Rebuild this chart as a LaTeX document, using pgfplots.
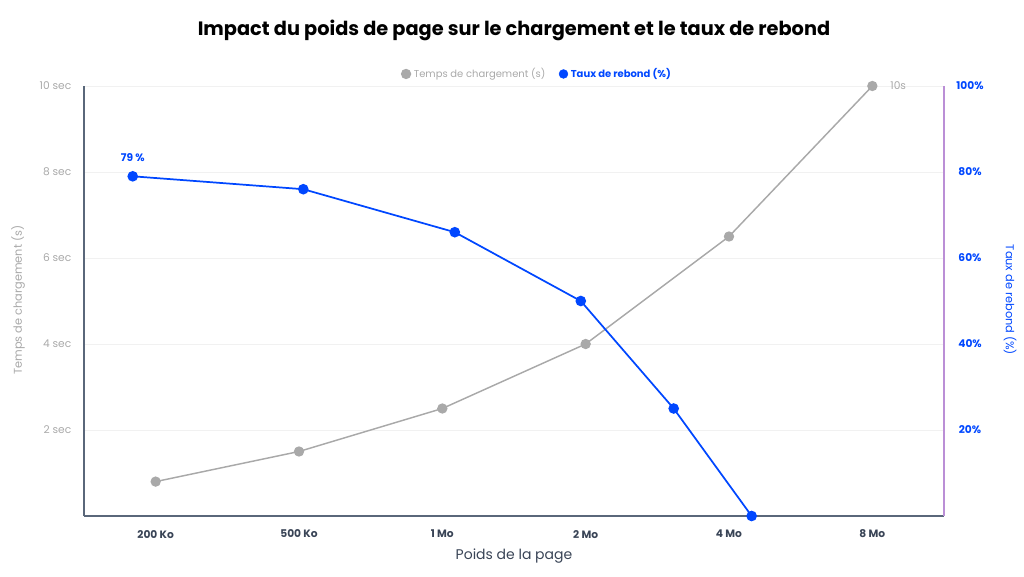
\documentclass[border=0pt]{standalone}
\usepackage{pgfplots}
\pgfplotsset{compat=1.18}
\usepackage{fontspec}
\setmainfont{Poppins}

\definecolor{loadgrey}{HTML}{A9A9A9}
\definecolor{bounceblue}{HTML}{0047FF}
\definecolor{axisslate}{HTML}{5A677A}
\definecolor{rightaxis}{HTML}{BB8FD6}
\definecolor{ticktext}{HTML}{394456}
\definecolor{gridgrey}{HTML}{F1F1F1}

% Load time (s) per page weight category
\pgfplotstableread{
x   t
0   0.8
1   1.5
2   2.5
3   4.0
4   6.5
5   10
}\loadtime

% Bounce rate (%) points
\pgfplotstableread{
x      r
-0.16  79
1.03   76
2.087  66
2.966  50
3.614  25
4.158  0
}\bounce

\pgfplotsset{
  common/.style={
    scale only axis,
    width=645pt, height=322.5pt,
    at={(63pt,45pt)}, anchor=south west,
    xmin=-0.5, xmax=5.5,
    clip=false,
    /pgf/number format/assume math mode=true,
    major tick length=0pt,
  },
}

\begin{document}
\begin{tikzpicture}[x=0.75pt,y=0.75pt]
\path[use as bounding box] (0,0) rectangle (1024,576);

% left axis: load time
\begin{axis}[common,
  ymin=0, ymax=10,
  axis x line*=bottom, axis y line*=left,
  axis line style={axisslate, line width=1.3pt},
  xtick={0,1,2,3,4,5},
  xticklabels={200 Ko,500 Ko,1 Mo,2 Mo,4 Mo,8 Mo},
  xticklabel style={font=\bfseries\fontsize{8}{9}\selectfont, text=ticktext, yshift=-7pt},
  ytick={2,4,6,8,10},
  yticklabels={2 sec,4 sec,6 sec,8 sec,10 sec},
  yticklabel style={font=\fontsize{8}{9}\selectfont, text=loadgrey, xshift=-6pt},
  ymajorgrids, grid style={gridgrey, line width=0.6pt},
  legend columns=2,
  legend style={draw=none, fill=none, at={(0.527,1.028)}, anchor=center,
    font=\fontsize{7.5}{9}\selectfont,
    /tikz/every even column/.append style={column sep=8pt}},
  legend cell align=left,
  legend image code/.code={\fill (0.2em,0) circle (3.3pt);},
]
\addplot[loadgrey, line width=1.1pt, mark=*, mark size=3.3pt,
  mark options={fill=loadgrey, draw=loadgrey}] table[x=x,y=t]{\loadtime};
\addlegendentry{\textcolor{loadgrey}{Temps de chargement (s)}}
\addlegendimage{bounceblue, fill=bounceblue}
\addlegendentry{\textcolor{bounceblue}{\bfseries Taux de rebond (\%)}}
\node[anchor=west, text=loadgrey, font=\fontsize{8}{9}\selectfont]
  at (axis cs:5,10) [xshift=10pt] {10s};
\end{axis}

% right axis: bounce rate
\begin{axis}[common,
  ymin=0, ymax=100,
  axis x line=none, axis y line*=right,
  axis line style={rightaxis, line width=1.1pt},
  xtick=\empty,
  ytick={20,40,60,80,100},
  yticklabels={20\%,40\%,60\%,80\%,100\%},
  yticklabel style={font=\bfseries\fontsize{8}{9}\selectfont, text=bounceblue,
    anchor=center, xshift=19.5pt},
]
\addplot[bounceblue, line width=1.3pt, mark=*, mark size=3.3pt,
  mark options={fill=bounceblue, draw=bounceblue}] table[x=x,y=r]{\bounce};
\node[text=bounceblue, font=\bfseries\fontsize{8}{9}\selectfont]
  at (axis cs:-0.16,79) [yshift=14pt] {79 \%};
\end{axis}

% titles and axis names
\node[font=\bfseries\fontsize{14.5}{17}\selectfont] at (514,546) {Impact du poids de page sur le chargement et le taux de rebond};
\node[font=\fontsize{10.5}{12}\selectfont, text=ticktext] at (514,20) {Poids de la page};
\node[rotate=90, font=\fontsize{8.5}{10}\selectfont, text=loadgrey] at (18,276) {Temps de chargement (s)};
\node[rotate=-90, font=\fontsize{8.5}{10}\selectfont, text=bounceblue] at (1010,276) {Taux de rebond (\%)};
\end{tikzpicture}
\end{document}
